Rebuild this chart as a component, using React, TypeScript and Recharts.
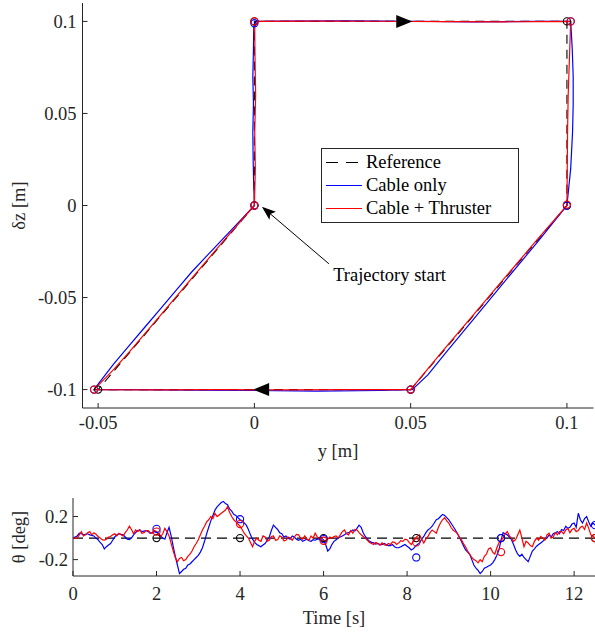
import React from "react";
import { ComposedChart, Line, Scatter, XAxis, YAxis, ReferenceDot } from "recharts";

const FONT = "'Liberation Serif', 'Times New Roman', serif";
const AXIS = "#262626";
const FS = 18.5;

// ---- top panel: y [m] vs δz [m] ----
const refY = [0, 0, 0.1, 0.1, 0.05, -0.05, 0];
const refZ = [0, 0.1, 0.1, 0, -0.1, -0.1, 0];

const cableY = [0, -0.0002, -0.0004, -0.0005, -0.0003, -0.0005, -0.0003, -0.0002, 0.0005, 0.01, 0.03, 0.05, 0.07, 0.09, 0.1012,
  0.1017, 0.102, 0.102, 0.1018, 0.1012, 0.1003, 0.1, 0.0905, 0.0807, 0.071, 0.0612, 0.0555, 0.0505,
  0.04, 0.02, 0, -0.02, -0.04, -0.0513, -0.05, -0.045, -0.04, -0.035, -0.03, -0.025, -0.02, -0.015, -0.01, -0.005, 0];
const cableZ = [0, 0.01, 0.025, 0.04, 0.055, 0.07, 0.085, 0.097, 0.1, 0.1002, 0.1003, 0.1001, 0.0998, 0.1, 0.1,
  0.085, 0.07, 0.055, 0.04, 0.02, 0.005, 0, -0.02, -0.04, -0.06, -0.08, -0.092, -0.1,
  -0.1005, -0.1008, -0.1005, -0.1003, -0.1, -0.1, -0.097, -0.086, -0.076, -0.066, -0.056, -0.046, -0.036, -0.027, -0.018, -0.009, 0];

const thrustY = [0, 0.0003, 0.0001, 0.0004, 0.0002, 0.0001, 0.001, 0.02, 0.04, 0.06, 0.08, 0.1012,
  0.1008, 0.1004, 0.1002, 0.1001, 0.1, 0.09, 0.08, 0.07, 0.06, 0.05,
  0.03, 0.01, -0.01, -0.03, -0.0513, -0.045, -0.04, -0.03, -0.02, -0.01, 0];
const thrustZ = [0, 0.02, 0.04, 0.06, 0.08, 0.097, 0.1, 0.1002, 0.1001, 0.0999, 0.0998, 0.1,
  0.08, 0.06, 0.04, 0.02, 0, -0.0195, -0.0395, -0.0595, -0.0795, -0.1,
  -0.1, -0.1002, -0.1, -0.1002, -0.1, -0.089, -0.0795, -0.0595, -0.0395, -0.0195, 0];

const wpBlueY = [0, 0, 0.1012, 0.1, 0.05, -0.0513];
const wpBlueZ = [0, 0.099, 0.1, 0, -0.1, -0.1];
const wpRedY = [0, 0, 0.1012, 0.1, 0.05, -0.0513];
const wpRedZ = [0, 0.1, 0.1, 0.0005, -0.1, -0.1];

const yTicks = [-0.05, 0, 0.05, 0.1];
const zTicks = [-0.1, -0.05, 0, 0.05, 0.1];

// ---- bottom panel: θ [deg] vs time, sampled every 0.05 s ----
const dt = 0.05;
const thetaCable = [
  0, 0.01, 0.02, 0.045, 0.04, 0.03, 0.035, 0.04, 0.03, 0.025,
  0.02, 0.0, -0.015, -0.04, -0.06, -0.1, -0.08, -0.065, -0.05, -0.02,
  0.01, 0.03, 0.04, 0.035, 0.03, 0.01, -0.01, -0.015, 0.0, 0.03,
  0.05, 0.07, 0.075, 0.06, 0.065, 0.07, 0.06, 0.045, 0.05, 0.065,
  0.06, 0.04, 0.02, 0.0, -0.01, 0.05, 0.1, 0.02, -0.08, -0.17,
  -0.25, -0.33, -0.31, -0.29, -0.28, -0.25, -0.24, -0.22, -0.2, -0.18,
  -0.16, -0.13, -0.09, -0.03, 0.04, 0.1, 0.16, 0.21, 0.26, 0.29,
  0.31, 0.33, 0.34, 0.32, 0.31, 0.27, 0.25, 0.22, 0.21, 0.19,
  0.17, 0.16, 0.14, 0.12, 0.08, 0.03, -0.01, -0.04, -0.06, -0.07,
  -0.08, -0.065, -0.05, -0.02, 0.01, 0.07, 0.12, 0.1, 0.08, 0.05,
  0.04, 0.01, 0.02, 0.0, -0.01, 0.02, 0.01, -0.01, -0.02, -0.01,
  -0.03, -0.02, -0.01, -0.025, -0.03, -0.015, -0.02, -0.01, -0.01, -0.02,
  -0.015, -0.06, -0.12, -0.1, -0.06, -0.03, -0.015, 0.0, 0.01, 0.02,
  0.03, 0.045, 0.05, 0.06, 0.075, 0.065, 0.09, 0.12, 0.1, 0.05,
  0.015, -0.01, -0.03, -0.04, -0.045, -0.055, -0.05, -0.06, -0.06, -0.05,
  -0.06, -0.07, -0.07, -0.06, -0.08, -0.09, -0.09, -0.08, -0.07, -0.06,
  -0.075, -0.09, -0.11, -0.1, -0.075, -0.06, -0.045, -0.01, 0.015, 0.05,
  0.075, 0.09, 0.11, 0.14, 0.17, 0.18, 0.2, 0.22, 0.21, 0.19,
  0.17, 0.14, 0.11, 0.08, 0.045, 0.01, -0.03, -0.07, -0.11, -0.13,
  -0.15, -0.2, -0.25, -0.28, -0.3, -0.33, -0.31, -0.28, -0.27, -0.26,
  -0.25, -0.23, -0.2, -0.16, -0.11, -0.02, 0.05, 0.04, 0.03, 0.01,
  -0.015, -0.06, -0.11, -0.15, -0.17, -0.15, -0.18, -0.2, -0.22, -0.17,
  -0.12, -0.1, -0.075, -0.06, -0.045, -0.03, -0.01, 0.0, 0.03, 0.01,
  0.04, 0.05, 0.06, 0.04, 0.08, 0.07, 0.11, 0.09, 0.1, 0.13,
  0.14, 0.1, 0.23, 0.17, 0.14, 0.18, 0.2, 0.15, 0.11, 0.14,
  0.12,
];
const thetaThrust = [
  0, 0.0, 0.0, 0.03, 0.06, 0.02, 0.03, 0.05, 0.06, 0.03,
  0.05, 0.035, 0.015, 0.0, -0.015, -0.02, -0.01, 0.01, 0.015, 0.03,
  0.04, 0.02, 0.045, 0.03, 0.02, 0.05, 0.075, 0.11, 0.08, 0.04,
  0.075, 0.06, 0.075, 0.045, 0.05, 0.07, 0.07, 0.05, 0.045, 0.07,
  0.06, 0.03, 0.015, 0.04, 0.09, 0.06, 0.02, -0.05, -0.12, -0.18,
  -0.22, -0.19, -0.18, -0.21, -0.2, -0.17, -0.15, -0.12, -0.08, -0.05,
  -0.015, 0.03, 0.075, 0.11, 0.15, 0.17, 0.2, 0.18, 0.23, 0.2,
  0.215, 0.23, 0.245, 0.26, 0.29, 0.24, 0.2, 0.17, 0.15, 0.13,
  0.11, 0.08, 0.045, 0.02, 0.0, -0.04, -0.08, -0.03, 0.0, -0.02,
  -0.03, 0.02, 0.01, -0.03, -0.02, 0.015, 0.02, -0.02, -0.015, 0.02,
  0.01, -0.025, -0.02, 0.01, 0.0, -0.02, 0.01, 0.035, 0.03, 0.0,
  -0.01, 0.02, -0.01, -0.02, 0.02, 0.0, 0.045, 0.01, 0.0, -0.02,
  -0.03, -0.02, -0.01, 0.01, 0.0, 0.015, 0.02, 0.0, 0.03, 0.06,
  0.075, 0.04, 0.03, 0.07, 0.045, 0.08, 0.075, 0.05, 0.03, 0.015,
  0.0, -0.02, -0.04, -0.05, -0.06, -0.04, -0.05, -0.065, -0.045, -0.06,
  -0.07, -0.05, -0.06, -0.035, -0.04, -0.06, -0.045, -0.025, -0.03, -0.01,
  -0.015, -0.04, -0.06, -0.03, 0.0, 0.02, 0.03, -0.01, -0.045, -0.01,
  0.015, 0.05, 0.075, 0.06, 0.045, 0.1, 0.14, 0.17, 0.19, 0.16,
  0.14, 0.1, 0.075, 0.06, 0.045, 0.01, -0.015, -0.05, -0.08, -0.12,
  -0.15, -0.18, -0.2, -0.21, -0.23, -0.2, -0.22, -0.17, -0.15, -0.1,
  -0.09, -0.13, -0.15, -0.09, -0.045, -0.02, 0.0, 0.04, 0.06, 0.02,
  0.0, -0.03, -0.015, 0.03, 0.075, 0.0, -0.08, -0.03, -0.045, -0.07,
  -0.08, -0.03, 0.0, -0.02, 0.015, 0.0, -0.02, 0.03, 0.045, 0.0,
  0.01, 0.05, 0.03, 0.06, 0.06, 0.04, 0.075, 0.09, 0.05, 0.08,
  0.09, 0.06, 0.07, 0.1, 0.11, 0.08, 0.14, 0.09, 0.03, 0.02,
  0.0,
];
const wpT = [2, 4, 6, 8.22, 10.25, 12.5];
const wpThetaRef = [0, 0, 0, 0, 0, 0];
const wpThetaBlue = [0.085, 0.175, -0.01, -0.18, 0.0, 0.12];
const wpThetaRed = [0.06, 0.13, -0.025, -0.04, -0.13, 0.0];
const tTicks = [0, 2, 4, 6, 8, 10, 12];
const thTicks = [-0.2, 0, 0.2];

const zip = (xs: number[], vs: number[]) => xs.map((x, i) => ({ x, v: vs[i] }));
const series = (vs: number[]) => vs.map((v, i) => ({ x: Math.round(i * dt * 100) / 100, v }));

// tick label renderers (serif, MATLAB-like grey)
const xTick = (p: any) => (
  <text x={p.x} y={p.y} dy="0.71em" textAnchor="middle" fontFamily={FONT} fontSize={FS} fill={AXIS}>
    {String(p.payload.value)}
  </text>
);
const yTick = (p: any) => (
  <text x={p.x} y={p.y} dy="0.34em" textAnchor="end" fontFamily={FONT} fontSize={FS} fill={AXIS}>
    {String(p.payload.value)}
  </text>
);

const ring = (color: string) => (p: any) => (
  <circle cx={p.cx} cy={p.cy} r={3.6} fill="none" stroke={color} strokeWidth={1.1} />
);

const triRight = (p: any) => (
  <polygon points={`${p.cx},${p.cy} ${p.cx - 16},${p.cy - 6.5} ${p.cx - 16},${p.cy + 6.5}`} fill="#000" />
);
const triLeft = (p: any) => (
  <polygon points={`${p.cx},${p.cy} ${p.cx + 16},${p.cy - 6.5} ${p.cx + 16},${p.cy + 6.5}`} fill="#000" />
);
const startArrow = (p: any) => {
  const { cx, cy } = p;
  return (
    <g>
      <line x1={cx + 6} y1={cy + 5} x2={cx + 67} y2={cy + 57} stroke="#000" strokeWidth={1} />
      <polygon
        points={`${cx},${cy} ${cx + 14},${cy + 5} ${cx + 8.5},${cy + 7.3} ${cx + 7.5},${cy + 13}`}
        fill="#000"
      />
    </g>
  );
};
const startText = (p: any) => (
  <text x={p.cx} y={p.cy} dy="0.35em" fontFamily={FONT} fontSize={FS} fill="#000">
    Trajectory start
  </text>
);

const vLabel = (text: string, x: number) => (props: any) => {
  const vb = props.viewBox;
  const cy = vb.y + vb.height / 2;
  return (
    <text x={x} y={cy} transform={`rotate(-90, ${x}, ${cy})`} textAnchor="middle" fontFamily={FONT} fontSize={FS} fill={AXIS}>
      {text}
    </text>
  );
};
const hLabel = (text: string, baseline: number) => (props: any) => {
  const vb = props.viewBox;
  return (
    <text x={vb.x + vb.width / 2} y={baseline} textAnchor="middle" fontFamily={FONT} fontSize={FS} fill={AXIS}>
      {text}
    </text>
  );
};

function LegendBox() {
  const rows = [
    { name: "Reference", color: "#000", dash: "12 8" },
    { name: "Cable only", color: "#0000ff", dash: undefined },
    { name: "Cable + Thruster", color: "#ff0000", dash: undefined },
  ];
  return (
    <div
      style={{
        position: "absolute", left: 321, top: 148, width: 196, height: 73,
        border: `1px solid ${AXIS}`, background: "#fff", fontFamily: FONT, fontSize: FS, color: "#000",
      }}
    >
      {rows.map((r, i) => (
        <div key={r.name} style={{ position: "absolute", left: 0, top: 2 + i * 23, height: 23, display: "flex", alignItems: "center" }}>
          <svg width={44} height={23}>
            <line x1={4} y1={11.5} x2={40} y2={11.5} stroke={r.color} strokeWidth={1.2} strokeDasharray={r.dash} />
          </svg>
          <span style={{ whiteSpace: "nowrap" }}>{r.name}</span>
        </div>
      ))}
    </div>
  );
}

export default function App() {
  return (
    <div style={{ position: "absolute", left: 0, top: 0, width: 595, height: 635, background: "#fff", fontFamily: FONT }}>
      <ComposedChart width={595} height={470} margin={{ top: 3, right: 1.5, bottom: 0, left: 0 }}>
        <XAxis
          type="number" dataKey="x" domain={[-0.055, 0.1085]} ticks={yTicks} allowDataOverflow
          height={62} tickSize={-5} tickMargin={13} stroke={AXIS} tick={xTick}
          label={{ content: hLabel("y [m]", 457) }}
        />
        <XAxis
          xAxisId="top" orientation="top" type="number" domain={[-0.055, 0.1085]} ticks={yTicks}
          allowDataOverflow height={0} tickSize={-5} stroke={AXIS} tick={false}
        />
        <YAxis
          type="number" domain={[-0.11, 0.11]} ticks={zTicks} allowDataOverflow width={82.5}
          tickSize={-5} tickMargin={11} stroke={AXIS} tick={yTick}
          label={{ content: vLabel("δz [m]", 25) }}
        />
        <YAxis
          yAxisId="right" orientation="right" type="number" domain={[-0.11, 0.11]} ticks={zTicks}
          allowDataOverflow width={0} tickSize={-5} stroke={AXIS} tick={false}
        />
        <Line data={zip(refY, refZ)} dataKey="v" stroke="#000" strokeWidth={1.1} strokeDasharray="9 6" dot={false} isAnimationActive={false} />
        <Line data={zip(cableY, cableZ)} dataKey="v" stroke="#0000ff" strokeWidth={1.2} dot={false} isAnimationActive={false} />
        <Line data={zip(thrustY, thrustZ)} dataKey="v" stroke="#ff0000" strokeWidth={1.2} dot={false} isAnimationActive={false} />
        <Scatter data={zip(refY.slice(0, 6), refZ.slice(0, 6))} dataKey="v" shape={ring("#000")} isAnimationActive={false} />
        <Scatter data={zip(wpBlueY, wpBlueZ)} dataKey="v" shape={ring("#0000ff")} isAnimationActive={false} />
        <Scatter data={zip(wpRedY, wpRedZ)} dataKey="v" shape={ring("#ff0000")} isAnimationActive={false} />
        <ReferenceDot x={0.0505} y={0.1} shape={triRight} />
        <ReferenceDot x={-0.0004} y={-0.1} shape={triLeft} />
        <ReferenceDot x={0.0024} y={-0.0007} shape={startArrow} />
        <ReferenceDot x={0.0252} y={-0.0377} shape={startText} />
      </ComposedChart>
      <LegendBox />
      <div style={{ position: "absolute", left: 0, top: 490 }}>
        <ComposedChart width={595} height={145} margin={{ top: 8, right: 0, bottom: 0, left: 0 }}>
          <XAxis
            type="number" dataKey="x" domain={[0, 12.5]} ticks={tTicks} allowDataOverflow
            height={59} tickSize={-5} tickMargin={16} stroke={AXIS} tick={xTick}
            label={{ content: hLabel("Time [s]", 134) }}
          />
          <YAxis
            type="number" domain={[-0.352, 0.372]} ticks={thTicks} allowDataOverflow width={73}
            tickSize={-5} tickMargin={10} stroke={AXIS} tick={yTick}
            label={{ content: vLabel("θ [deg]", 25) }}
          />
          <Line data={[{ x: 0, v: 0 }, { x: 12.5, v: 0 }]} dataKey="v" stroke="#000" strokeWidth={1.1} strokeDasharray="10 6" dot={false} isAnimationActive={false} />
          <Line data={series(thetaCable)} dataKey="v" stroke="#0000ff" strokeWidth={1.2} dot={false} isAnimationActive={false} />
          <Line data={series(thetaThrust)} dataKey="v" stroke="#ff0000" strokeWidth={1.2} dot={false} isAnimationActive={false} />
          <Scatter data={zip(wpT, wpThetaRef)} dataKey="v" shape={ring("#000")} isAnimationActive={false} />
          <Scatter data={zip(wpT, wpThetaBlue)} dataKey="v" shape={ring("#0000ff")} isAnimationActive={false} />
          <Scatter data={zip(wpT, wpThetaRed)} dataKey="v" shape={ring("#ff0000")} isAnimationActive={false} />
        </ComposedChart>
      </div>
    </div>
  );
}
